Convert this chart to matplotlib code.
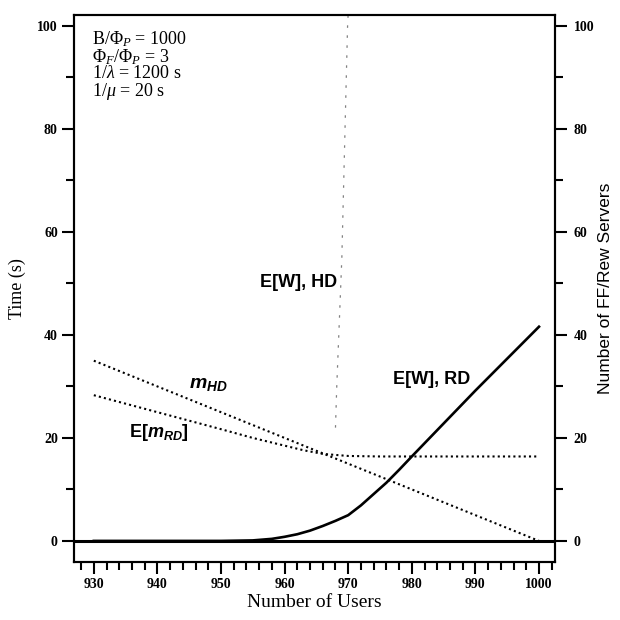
import numpy as np
import matplotlib
matplotlib.use("Agg")
import matplotlib.pyplot as plt
from matplotlib.ticker import MultipleLocator

# number of users (x axis)
users_rd = [930, 940, 950, 955, 958, 960, 962, 964, 966, 968, 970, 972, 974,
            976, 978, 980, 985, 990, 995, 1000]
# mean waiting time, RD policy (s)
wait_rd = [0.0, 0.0, 0.0, 0.1, 0.4, 0.8, 1.3, 2.0, 2.9, 3.9, 5.0, 6.9, 9.1,
           11.3, 13.8, 16.4, 22.8, 29.2, 35.4, 41.6]

# mean waiting time, HD policy (s) - blows up near 970 users
users_hd = [968.0, 968.2, 969.0, 969.9, 970.3]
wait_hd = [22.0, 30.0, 55.0, 100.0, 110.0]

# FF/Rew servers needed, HD policy
users_mhd = [930, 1000]
servers_hd = [35.0, 0.0]

# FF/Rew servers needed on average, RD policy
users_mrd = [930, 940, 950, 955, 960, 963, 966, 970, 975, 980, 1000]
servers_rd = [28.3, 25.0, 21.7, 20.0, 18.5, 17.6, 16.9, 16.5, 16.4, 16.4, 16.4]

params = [r"B/$\Phi_P$ = 1000",
          r"$\Phi_F$/$\Phi_P$ = 3",
          r"1/$\lambda$ = 1200 s",
          r"1/$\mu$ = 20 s"]

plt.rcParams["font.family"] = "serif"
plt.rcParams["font.serif"] = ["Liberation Serif", "DejaVu Serif"]
plt.rcParams["mathtext.fontset"] = "custom"
plt.rcParams["mathtext.rm"] = "Liberation Serif"
plt.rcParams["mathtext.it"] = "Liberation Serif:italic"
plt.rcParams["mathtext.bf"] = "Liberation Serif:bold"
plt.rcParams["mathtext.sf"] = "Liberation Sans:italic:bold"

fig = plt.figure(figsize=(6.2, 6.2), dpi=100)
ax = fig.add_axes([0.119, 0.0935, 0.776, 0.882])

dots = (0, (1, 1.5))
ax.axhline(0, color="black", lw=2.2, zorder=3)
ax.plot(users_rd, wait_rd, color="black", lw=1.9, zorder=4)
ax.plot(users_hd, wait_hd, color="0.5", lw=0.9, ls=(0, (2, 6)), zorder=2)
ax.plot(users_mhd, servers_hd, color="black", lw=1.5, ls=dots)
ax.plot(users_mrd, servers_rd, color="black", lw=1.5, ls=dots)

ax.set_xlim(926.85, 1002.5)
ax.set_ylim(-4.1, 102.1)

sans = ["Liberation Sans", "DejaVu Sans"]
ax.text(968.3, 50.1, "E[W], HD", family=sans, fontsize=13, weight="bold",
        ha="right", va="center")
ax.text(977.0, 31.3, "E[W], RD", family=sans, fontsize=13, weight="bold",
        ha="left", va="center")
ax.text(948.0, 30.3, r"$\mathsf{m_{HD}}$", family=sans, fontsize=14,
        ha="center", va="center")
ax.text(940.2, 21.0, r"E[$\mathsf{m_{RD}}$]", family=sans, fontsize=13,
        weight="bold", ha="center", va="center")

ax.text(0.037, 0.975, "\n".join(params), transform=ax.transAxes, fontsize=13,
        ha="left", va="top", linespacing=0.9)

ax.xaxis.set_major_locator(MultipleLocator(10))
ax.xaxis.set_minor_locator(MultipleLocator(2))
ax.yaxis.set_minor_locator(MultipleLocator(10))
ax.set_yticks(np.arange(0, 101, 20))

ax.tick_params(which="major", direction="out", length=8.5, width=1.5,
               labelsize=10, pad=3)
ax.tick_params(which="minor", direction="out", length=6, width=1.5)
for lab in ax.get_xticklabels() + ax.get_yticklabels():
    lab.set_fontweight("bold")

for s in ax.spines.values():
    s.set_linewidth(1.5)

ax.set_xlabel("Number of Users", fontsize=14, labelpad=2)
ax.set_ylabel("Time (s)", fontsize=13, labelpad=8)

# right axis shares the same 0-100 scale
ax2 = ax.twinx()
ax2.set_ylim(ax.get_ylim())
ax2.set_yticks(np.arange(0, 101, 20))
ax2.yaxis.set_minor_locator(MultipleLocator(10))
ax2.tick_params(which="major", direction="out", length=8.5, width=1.5,
                labelsize=10, pad=5)
ax2.tick_params(which="minor", direction="out", length=6, width=1.5)
for lab in ax2.get_yticklabels():
    lab.set_fontweight("bold")
ax2.set_ylabel("Number of FF/Rew Servers", family=sans, fontsize=12.5, labelpad=3)
for s in ax2.spines.values():
    s.set_linewidth(1.5)

fig.savefig("out.png", dpi=100)
